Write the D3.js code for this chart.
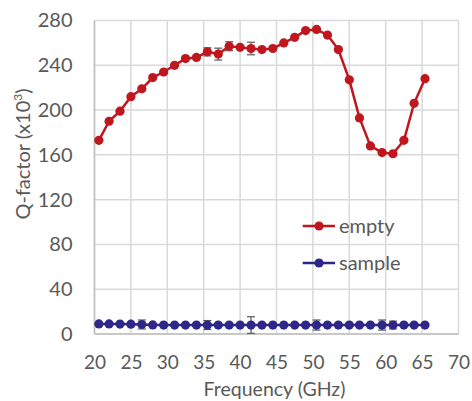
<!DOCTYPE html>
<html><head><meta charset="utf-8">
<script src="https://cdn.jsdelivr.net/npm/d3@7/dist/d3.min.js"></script>
<style>body{margin:0;background:#fff}svg{display:block}text{font-family:Lato,"Open Sans",sans-serif;fill:#595959}</style>
</head><body><svg id="c" width="472" height="401"></svg>
<script>
const freq = [20.6,22.0,23.5,25.0,26.5,28.0,29.5,31.0,32.5,34.0,35.5,37.0,38.5,40.0,41.5,43.0,44.5,46.0,47.5,49.0,50.5,52.0,53.5,55.0,56.4,57.9,59.5,61.0,62.5,63.9,65.4];
const emptyQ = [173,190,199,212,219,229,234,240,246,247,252,250,257,256,255,254,255,260,265,271,272,267,254,227,193,168,162,161,173,206,228];
const emptyErr = [1,1,1,1,1,1,1,1,1,1,3.6,5.3,4,1,5.6,1,1,1,1,1,1,1,1,1,1,1,1,1,1,1,1];
const sampleQ = [9,9,8.9,8.8,8.5,8.1,8,8,8,8,8,8,8,8,8,8,8,8,8,8,8,8,8,8,8,8,8,8,8,8,8];
const sampleErr = [0.5,0.5,0.5,0.5,4,0.5,0.5,0.5,0.5,0.5,4,0.5,0.5,0.5,7.4,0.5,0.5,0.5,0.5,0.5,4.5,0.5,0.5,0.5,0.5,0.5,4.5,3.5,0.5,0.5,0.5];
const xTicks = [20,25,30,35,40,45,50,55,60,65,70];
const yTicks = [0,40,80,120,160,200,240,280];
const seriesNames = ["empty","sample"];
const colors = ["#C0171F","#2E278A"];

const svg = d3.select("#c");
const L=94.5,R=458.5,T=20.5,B=334;
const x = d3.scaleLinear().domain([20,70]).range([L,R]);
const y = d3.scaleLinear().domain([0,280]).range([B,T]);

svg.append("g").selectAll("line").data(xTicks).join("line")
  .attr("x1",d=>x(d)).attr("x2",d=>x(d)).attr("y1",T).attr("y2",B)
  .attr("stroke","#d9d9d9").attr("stroke-width",1.5);
svg.append("g").selectAll("line").data(yTicks).join("line")
  .attr("x1",L).attr("x2",R).attr("y1",d=>y(d)).attr("y2",d=>y(d))
  .attr("stroke","#d9d9d9").attr("stroke-width",1.5);
svg.append("line").attr("x1",L).attr("x2",L).attr("y1",T).attr("y2",B).attr("stroke","#bfbfbf").attr("stroke-width",1.5);
svg.append("line").attr("x1",L).attr("x2",R).attr("y1",B).attr("y2",B).attr("stroke","#bfbfbf").attr("stroke-width",1.5);

const ax = svg.append("g").attr("transform",`translate(0,${B})`)
  .call(d3.axisBottom(x).tickValues(xTicks).tickSize(0).tickPadding(22));
ax.select(".domain").remove();
ax.selectAll("text").attr("font-size",19).attr("font-family","Lato").attr("fill","#595959");
const ay = svg.append("g").attr("transform",`translate(${L},0)`)
  .call(d3.axisLeft(y).tickValues(yTicks).tickSize(0).tickPadding(22));
ay.select(".domain").remove();
ay.selectAll("text").attr("font-size",20).attr("font-family","Lato").attr("fill","#595959");

svg.append("text").attr("x",(L+R)/2-2).attr("y",396).attr("text-anchor","middle").attr("font-size",19.5).text("Frequency (GHz)");
const yt = svg.append("text").attr("transform","translate(30,154) rotate(-90)").attr("text-anchor","middle").attr("font-size",20);
yt.append("tspan").text("Q-factor (x10");
yt.append("tspan").attr("font-size",12).attr("dy",-8).text("3");
yt.append("tspan").attr("dy",8).text(")");

const data = [
  freq.map((f,i)=>({f,v:emptyQ[i],e:emptyErr[i]})),
  freq.map((f,i)=>({f,v:sampleQ[i],e:sampleErr[i]}))
];
const line = d3.line().x(d=>x(d.f)).y(d=>y(d.v));
data.forEach((s,k)=>{
  const g = svg.append("g");
  g.append("path").datum(s).attr("d",line).attr("fill","none").attr("stroke",colors[k]).attr("stroke-width",2.5);
  const eb = g.append("g").selectAll("g").data(s).join("g").attr("stroke","#595959").attr("stroke-width",1.2);
  eb.append("line").attr("x1",d=>x(d.f)).attr("x2",d=>x(d.f)).attr("y1",d=>y(d.v-d.e)).attr("y2",d=>y(d.v+d.e));
  eb.append("line").attr("x1",d=>x(d.f)-4).attr("x2",d=>x(d.f)+4).attr("y1",d=>y(d.v-d.e)).attr("y2",d=>y(d.v-d.e));
  eb.append("line").attr("x1",d=>x(d.f)-4).attr("x2",d=>x(d.f)+4).attr("y1",d=>y(d.v+d.e)).attr("y2",d=>y(d.v+d.e));
  g.append("g").selectAll("circle").data(s).join("circle")
    .attr("cx",d=>x(d.f)).attr("cy",d=>y(d.v)).attr("r",4.6).attr("fill",colors[k]);
});

seriesNames.forEach((n,k)=>{
  const cy = 226 + k*37;
  svg.append("line").attr("x1",302.7).attr("x2",335).attr("y1",cy).attr("y2",cy).attr("stroke",colors[k]).attr("stroke-width",2.5);
  svg.append("circle").attr("cx",319).attr("cy",cy).attr("r",4.6).attr("fill",colors[k]);
  svg.append("text").attr("x",339).attr("y",cy+6.5).attr("font-size",20).text(n);
});
</script></body></html>
